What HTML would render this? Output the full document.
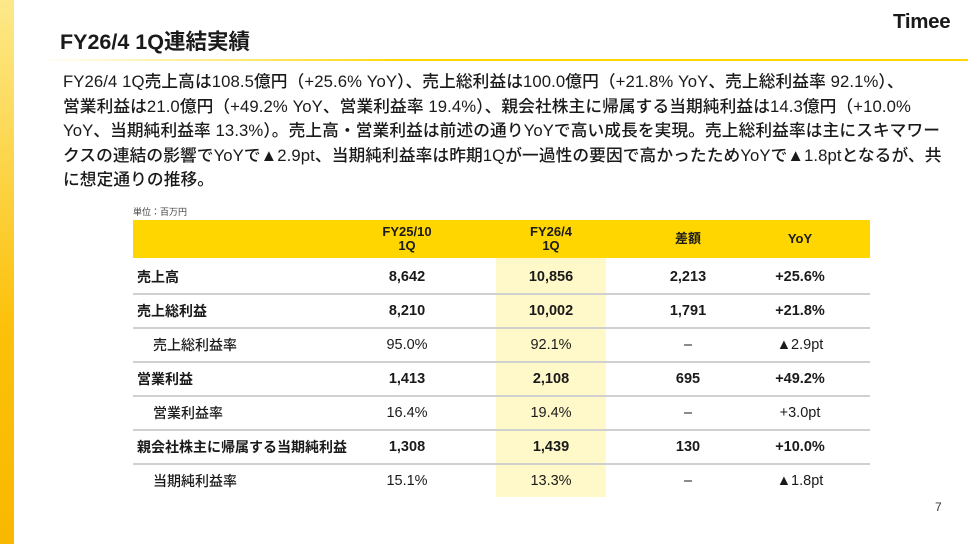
<!DOCTYPE html>
<html><head><meta charset="utf-8"><style>
*{margin:0;padding:0;box-sizing:border-box}
body{width:968px;height:544px;background:#fff;position:relative;overflow:hidden;font-family:"Liberation Sans","Noto Sans CJK JP",sans-serif;color:#1a1a1a}
.abs{position:absolute}
#bar{left:0;top:0;width:14px;height:544px;background:linear-gradient(#fde98a,#fcc10a 60%,#f9b800)}
#title{left:60px;top:25px;font-size:21.5px;font-weight:700}
#logo{left:893px;top:10px;font-size:20.5px;font-weight:700;letter-spacing:-0.3px}
#rule{left:36px;top:59px;width:932px;height:2px;background:linear-gradient(90deg,rgba(255,214,0,0),#ffd600 40%,#ffd600)}
#para{left:63px;top:70px;font-size:16.7px;letter-spacing:0.1px;line-height:24.5px;font-weight:500;white-space:nowrap}
#unit{left:133px;top:205px;font-size:9px;color:#444}
#head{left:133px;top:220px;width:737px;height:38px;background:#ffd600}
#hl{left:496px;top:258px;width:110px;height:239px;background:#fff8c8}
.hc{font-size:13px;font-weight:700;text-align:center;line-height:14px;width:160px;margin-left:-80px}
.row{left:133px;width:737px;height:34px}
.sep{left:133px;width:737px;height:2px;background:#d0d0d0}
.cell{font-size:14.5px;line-height:18px;text-align:center;width:160px;margin-left:-80px;top:8px;font-weight:700}
.lab{left:4px;top:8px;font-size:14px;line-height:18px;font-weight:700}
.sub .lab{left:20px;font-weight:500}
.sub .cell{font-weight:500}
#pg{left:935px;top:500px;font-size:12px;color:#333}
</style></head><body>
<div id="bar" class="abs"></div>
<div id="title" class="abs">FY26/4 1Q連結実績</div>
<div id="logo" class="abs">Timee</div>
<div id="rule" class="abs"></div>
<div id="para" class="abs">FY26/4 1Q売上高は108.5億円（+25.6% YoY）、売上総利益は100.0億円（+21.8% YoY、売上総利益率 92.1%）、<br>営業利益は21.0億円（+49.2% YoY、営業利益率 19.4%）、親会社株主に帰属する当期純利益は14.3億円（+10.0%<br>YoY、当期純利益率 13.3%）。売上高・営業利益は前述の通りYoYで高い成長を実現。売上総利益率は主にスキマワー<br>クスの連結の影響でYoYで▲2.9pt、当期純利益率は昨期1Qが一過性の要因で高かったためYoYで▲1.8ptとなるが、共<br>に想定通りの推移。</div>
<div id="unit" class="abs">単位：百万円</div>
<div id="head" class="abs">
<div class="abs hc" style="left:274px;top:5px">FY25/10<br>1Q</div>
<div class="abs hc" style="left:418px;top:5px">FY26/4<br>1Q</div>
<div class="abs hc" style="left:555px;top:12px">差額</div>
<div class="abs hc" style="left:667px;top:12px">YoY</div>
</div>
<div id="hl" class="abs"></div>
<div id="rows"></div>
<div id="pg" class="abs">7</div>
<script>
const labels=["売上高","売上総利益","売上総利益率","営業利益","営業利益率","親会社株主に帰属する当期純利益","当期純利益率"];
const fy25=["8,642","8,210","95.0%","1,413","16.4%","1,308","15.1%"];
const fy26=["10,856","10,002","92.1%","2,108","19.4%","1,439","13.3%"];
const diff=["2,213","1,791","–","695","–","130","–"];
const yoy=["+25.6%","+21.8%","▲2.9pt","+49.2%","+3.0pt","+10.0%","▲1.8pt"];
const subRow=[false,false,true,false,true,false,true];
const host=document.getElementById('rows');
const colX=[274,418,555,667];
labels.forEach((l,i)=>{
  const top=260+i*34;
  const r=document.createElement('div');
  r.className='abs row'+(subRow[i]?' sub':'');
  r.style.top=top+'px';
  
  
  let h='<div class="abs lab">'+l+'</div>';
  [fy25[i],fy26[i],diff[i],yoy[i]].forEach((v,j)=>{
    h+='<div class="abs cell" style="left:'+colX[j]+'px">'+v+'</div>';
  });
  r.innerHTML=h;
  host.appendChild(r);
  if(i<labels.length-1){
    const s=document.createElement('div');
    s.className='abs sep';
    s.style.top=(top+33)+'px';
    
    
    host.appendChild(s);
  }
});
</script>
</body></html>
